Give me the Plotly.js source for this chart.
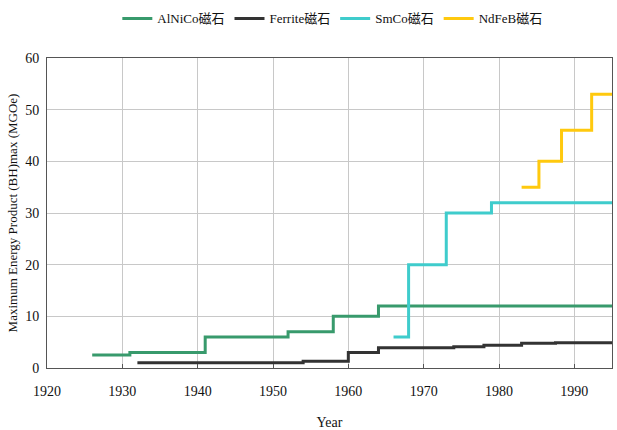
<!DOCTYPE html>
<html>
<head>
<meta charset="utf-8">
<script src="https://cdn.plot.ly/plotly-3.0.1.min.js"></script>
<style>html,body{margin:0;padding:0;background:#fff;}#chart{width:617px;height:430px;}</style>
</head>
<body>
<div id="chart"></div>
<script>
// Step history of the maximum energy product of permanent magnets
const alnicoYears = [1926, 1931, 1941, 1952, 1958, 1964, 1995];
const alnicoBH    = [2.5, 3, 6, 7, 10, 12, 12];

const ferriteYears = [1932, 1954, 1960, 1964, 1974, 1978, 1983, 1987.5, 1995];
const ferriteBH    = [1.0, 1.3, 3.0, 3.9, 4.1, 4.4, 4.8, 4.9, 4.9];

const smcoYears = [1966, 1968, 1973, 1979, 1995];
const smcoBH    = [6, 20, 30, 32, 32];

const ndfebYears = [1983, 1985.3, 1988.3, 1992.3, 1995];
const ndfebBH    = [35, 40, 46, 53, 53];

const seriesNames = ['AlNiCo磁石', 'Ferrite磁石', 'SmCo磁石', 'NdFeB磁石'];
const seriesColors = ['#389a6c', '#333333', '#3fcccc', '#ffc90e'];

const xs = [alnicoYears, ferriteYears, smcoYears, ndfebYears];
const ys = [alnicoBH, ferriteBH, smcoBH, ndfebBH];

const traces = xs.map((x, i) => ({
  x: x, y: ys[i], name: seriesNames[i], type: 'scatter', mode: 'lines',
  line: {shape: 'hv', color: seriesColors[i], width: 3}
}));

const serif = '"Liberation Serif", "Times New Roman", "Noto Sans CJK TC", serif';

const layout = {
  width: 617, height: 430,
  margin: {l: 47, r: 5, t: 58, b: 62},
  paper_bgcolor: '#fff', plot_bgcolor: '#fff',
  font: {family: serif, size: 14, color: '#111'},
  showlegend: true,
  legend: {
    orientation: 'h', x: 0.505, xanchor: 'center', y: 0.992, yref: 'container', yanchor: 'top',
    font: {family: serif, size: 13, color: '#111'},
    itemwidth: 30, tracegroupgap: 0
  },
  xaxis: {
    range: [1920, 1995], tick0: 1920, dtick: 10,
    showgrid: true, gridcolor: '#c8c8c8', gridwidth: 1,
    showline: true, linecolor: '#555', linewidth: 1, mirror: true,
    ticks: 'inside', ticklen: 4, tickcolor: '#555',
    ticklabelstandoff: 10,
    zeroline: false,
    title: {text: 'Year', font: {family: serif, size: 14}, standoff: 22}
  },
  yaxis: {
    range: [0, 60], tick0: 0, dtick: 10,
    showgrid: true, gridcolor: '#c8c8c8', gridwidth: 1,
    showline: true, linecolor: '#555', linewidth: 1, mirror: true,
    ticks: '', zeroline: false,
    ticklabelstandoff: 4,
    title: {text: 'Maximum Energy Product (BH)max (MGOe)', font: {family: serif, size: 13}, standoff: 4}
  }
};

Plotly.newPlot('chart', traces, layout, {displayModeBar: false, staticPlot: true});
</script>
</body>
</html>
